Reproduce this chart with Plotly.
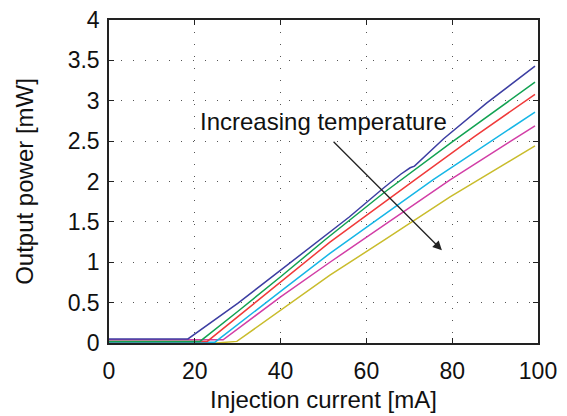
import plotly.graph_objects as go

# Data
blue_x = [0, 10, 18.4, 30, 40, 49.2, 56, 64, 68, 70.2, 71.2, 78, 88, 99.3]
blue_y = [0.05, 0.05, 0.05, 0.49, 0.90, 1.27, 1.56, 1.92, 2.09, 2.17, 2.19, 2.53, 2.97, 3.43]
green_x = [0, 21.2, 30, 40, 50.3, 64.3, 80, 99.3]
green_y = [0.02, 0.02, 0.39, 0.82, 1.275, 1.87, 2.49, 3.23]
red_x = [0, 22.9, 35, 51.5, 71.3, 85, 99.3]
red_y = [0.02, 0.02, 0.54, 1.25, 2.02, 2.55, 3.08]
cyan_x = [0, 24.7, 40, 51.5, 75.5, 99.3]
cyan_y = [0.01, 0.01, 0.64, 1.11, 2.02, 2.86]
magenta_x = [0, 26.6, 40, 51.5, 79.5, 99.3]
magenta_y = [0.04, 0.04, 0.57, 1.00, 2.02, 2.69]
yellow_x = [0, 25, 29.8, 40, 51.5, 64.3, 79.5, 99.3]
yellow_y = [0.0, 0.0, 0.02, 0.41, 0.84, 1.28, 1.81, 2.44]

x_ticks = [0, 20, 40, 60, 80, 100]
y_ticks = [0, 0.5, 1, 1.5, 2, 2.5, 3, 3.5, 4]
y_tick_text = ["0", "0.5", "1", "1.5", "2", "2.5", "3", "3.5", "4"]

series = [
    (yellow_x, yellow_y, "#c9bc2c"),
    (magenta_x, magenta_y, "#d23ea6"),
    (cyan_x, cyan_y, "#16b6e6"),
    (red_x, red_y, "#f03a3a"),
    (green_x, green_y, "#12a252"),
    (blue_x, blue_y, "#3c3ea2"),
]

FONT = "Liberation Sans, Arial, sans-serif"

fig = go.Figure()
for xs, ys, col in series:
    fig.add_trace(go.Scatter(x=xs, y=ys, mode="lines",
                             line=dict(color=col, width=1.5), showlegend=False))

axis_common = dict(
    showline=True, linecolor="#222", linewidth=1.5, mirror="allticks",
    ticks="inside", ticklen=5, tickcolor="#222", tickwidth=1,
    showgrid=True, gridcolor="#555", gridwidth=1, griddash="1px,11px",
    zeroline=False, automargin=False,
    tickfont=dict(family=FONT, size=23, color="#111"),
    title_font=dict(family=FONT, size=24, color="#111"),
)

fig.update_xaxes(range=[0, 100], tickvals=x_ticks, title_text="Injection current [mA]",
                 ticklabelstandoff=7, title_standoff=8, **axis_common)
fig.update_yaxes(range=[0, 4], tickvals=y_ticks, ticktext=y_tick_text,
                 ticklabelstandoff=3, title_text="Output power [mW]", title_standoff=27,
                 **axis_common)

fig.add_annotation(x=50, y=2.74, xref="x", yref="y", text="Increasing temperature",
                   showarrow=False, font=dict(family=FONT, size=24, color="#111"))
fig.add_annotation(x=77.6, y=1.15, ax=52, ay=2.51, xref="x", yref="y",
                   axref="x", ayref="y", text="", showarrow=True,
                   arrowhead=2, arrowsize=1.4, arrowwidth=1.3, arrowcolor="#222")

fig.update_layout(
    width=567, height=416, margin=dict(l=109, r=29, t=20, b=73),
    plot_bgcolor="white", paper_bgcolor="white",
)

fig.write_html("out.html")
